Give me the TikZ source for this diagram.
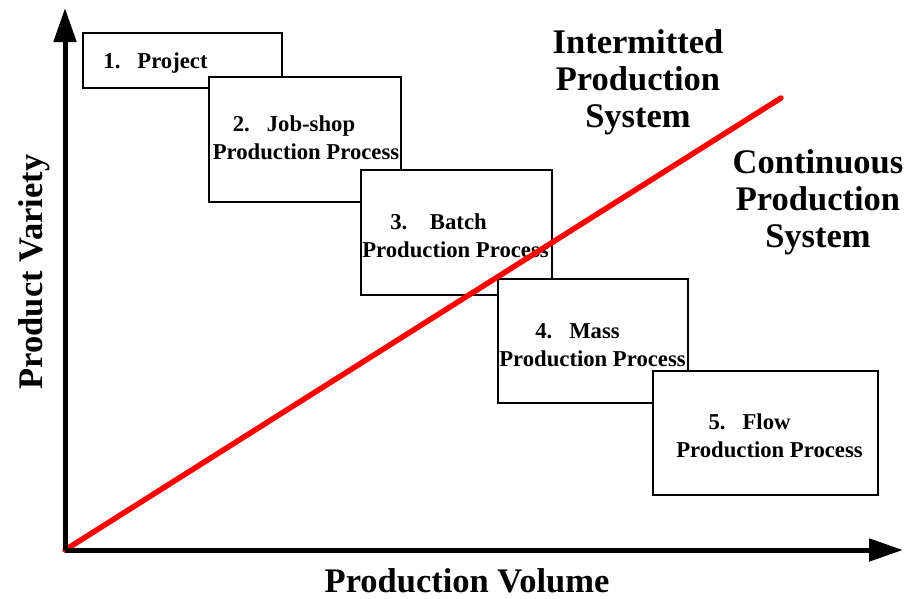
\documentclass[tikz,border=0pt]{standalone}
\usepackage{fontspec}
\setmainfont{Liberation Serif}
\usetikzlibrary{arrows.meta}

\begin{document}
\begin{tikzpicture}[
    x=1pt,
    y=-1pt,
    font=\bfseries,
    stage/.style={
		rectangle,
		draw=black,
		line width=2pt,
		fill=white,
		inner sep=0pt
	},
	stagetext/.style={
		align=center,
		inner sep=0pt,
		font=\bfseries\fontsize{22.7}{28}\selectfont
	},
	system/.style={
		align=center,
		inner sep=0pt,
		font=\bfseries\fontsize{34.5}{37}\selectfont
	},
	axis/.style={
		line width=5pt,
		-{Triangle[length=34pt,width=22pt]}
	}
  ]
  \useasboundingbox (0,0) rectangle (906,598);

    % We start by placing the blocks
  \node [stage, minimum width=199pt, minimum height=55pt] (proj) at (182.5,60.5) {};
  \node [stagetext] (projtext) at (155.5,63) {1.\hspace{0.75em}Project};

  \node [stage, minimum width=192pt, minimum height=125pt] (jobshop) at (305,139.5) {};
  \node [stagetext] (jobshoptext) at (306,138)
 {2.\hspace{0.75em}Job-shop\hspace*{24pt}\\Production Process};

  \node [stage, minimum width=191pt, minimum height=125pt] (batch) at (456.5,232.5) {};
  \node [stagetext] (batchtext) at (455.5,236)
 {3.\hspace{1em}Batch\hspace*{34pt}\\Production Process};

  \node [stage, minimum width=190pt, minimum height=124pt] (mass) at (593,341) {};
  \node [stagetext] (masstext) at (592.5,345)
 {4.\hspace{0.75em}Mass\hspace*{30pt}\\Production Process};

  \node [stage, minimum width=225pt, minimum height=124pt] (flow) at (765.5,433) {};
  \node [stagetext] (flowtext) at (769.5,436)
 {5.\hspace{0.75em}Flow\hspace*{40pt}\\Production Process};

    % the two kinds of system
  \node [system] (intermitted) at (638,82) {Intermitted\\Production\\System};
  \node [system] (continuous) at (818,202) {Continuous\\Production\\System};

    % axes and the dividing line
  \coordinate (origin) at (65,550);
  \coordinate (vtop) at (65,8);
  \coordinate (hend) at (903,550);
  \coordinate (divide) at (781,98);

  \draw [red, line width=5.5pt, line cap=round] (origin) -- (divide);
  \draw [axis] (origin) -- (vtop);
  \draw [axis] (origin) -- (hend);

  \node [system, anchor=base] (volume) at (467,592) {Production Volume};
  \node [system, anchor=base, rotate=90] (variety) at (42,272) {Product Variety};

\end{tikzpicture}
\end{document}
